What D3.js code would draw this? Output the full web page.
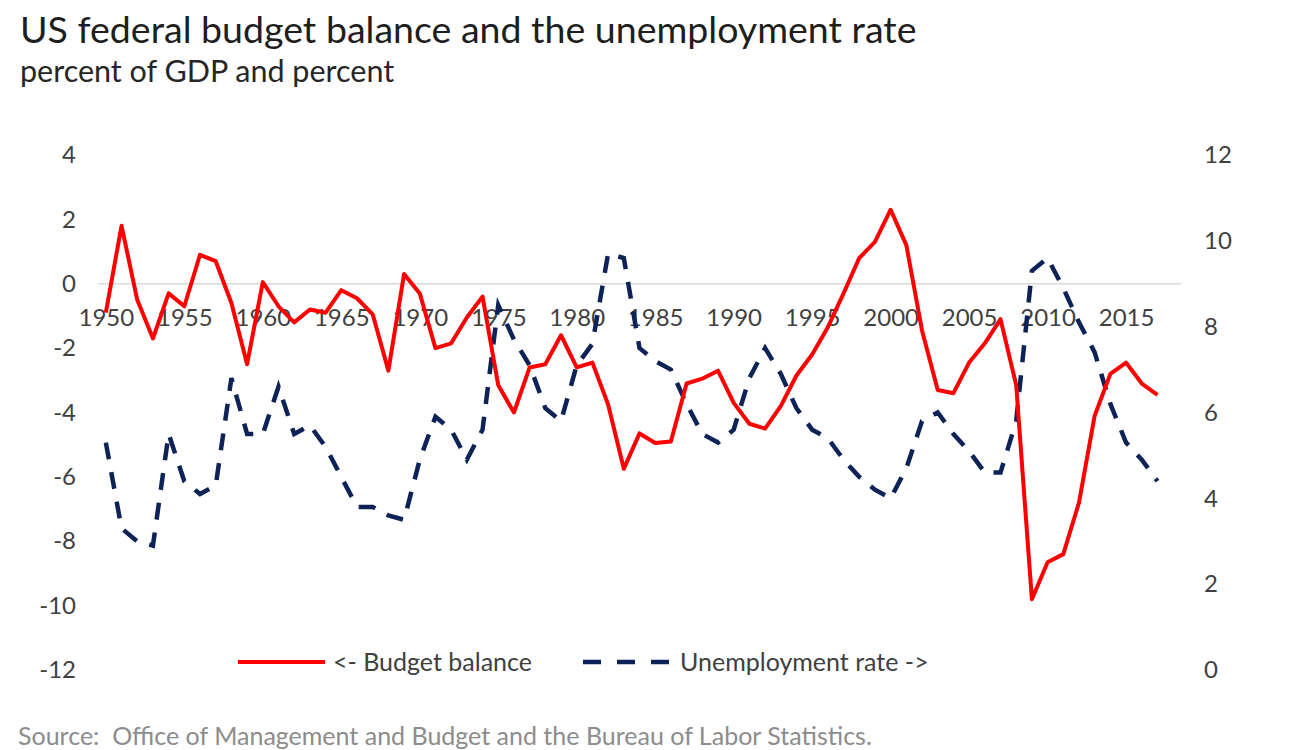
<!DOCTYPE html>
<html lang="en">
<head>
    <meta charset="UTF-8">
    <title>US federal budget balance and the unemployment rate</title>
    <script src="https://d3js.org/d3.v7.min.js"></script>
    <style>
        body { margin: 0; background: #fff; }
        text { font-family: Lato, "Open Sans", sans-serif; }
    </style>
</head>
<body>
    <script>
        // categories (2018 slot is left empty, as in the original Excel chart)
        const years = [1950, 1951, 1952, 1953, 1954, 1955, 1956, 1957, 1958, 1959,
            1960, 1961, 1962, 1963, 1964, 1965, 1966, 1967, 1968, 1969,
            1970, 1971, 1972, 1973, 1974, 1975, 1976, 1977, 1978, 1979,
            1980, 1981, 1982, 1983, 1984, 1985, 1986, 1987, 1988, 1989,
            1990, 1991, 1992, 1993, 1994, 1995, 1996, 1997, 1998, 1999,
            2000, 2001, 2002, 2003, 2004, 2005, 2006, 2007, 2008, 2009,
            2010, 2011, 2012, 2013, 2014, 2015, 2016, 2017, 2018];

        // budget balance, percent of GDP (left axis), 1950-2017
        const budgetBalance = [-0.9, 1.8, -0.5, -1.7, -0.3, -0.7, 0.9, 0.7, -0.6, -2.5,
            0.05, -0.7, -1.2, -0.8, -0.9, -0.2, -0.45, -0.95, -2.7, 0.3,
            -0.3, -2.0, -1.85, -1.05, -0.4, -3.15, -4.0, -2.6, -2.5, -1.6,
            -2.6, -2.45, -3.75, -5.75, -4.65, -4.95, -4.9, -3.1, -2.95, -2.7,
            -3.7, -4.35, -4.5, -3.8, -2.85, -2.2, -1.35, -0.3, 0.8, 1.3,
            2.3, 1.2, -1.45, -3.3, -3.4, -2.45, -1.85, -1.1, -3.15, -9.8,
            -8.65, -8.4, -6.8, -4.1, -2.8, -2.45, -3.1, -3.45];

        // unemployment rate, percent (right axis), 1950-2017
        const unemployment = [5.3, 3.3, 3.0, 2.9, 5.5, 4.4, 4.1, 4.3, 6.8, 5.5,
            5.5, 6.6, 5.5, 5.7, 5.2, 4.5, 3.8, 3.8, 3.6, 3.5,
            4.9, 5.9, 5.6, 4.9, 5.6, 8.5, 7.7, 7.1, 6.1, 5.8,
            7.1, 7.6, 9.7, 9.6, 7.5, 7.2, 7.0, 6.2, 5.5, 5.3,
            5.6, 6.8, 7.5, 6.9, 6.1, 5.6, 5.4, 4.9, 4.5, 4.2,
            4.0, 4.7, 5.8, 6.0, 5.5, 5.1, 4.6, 4.6, 5.8, 9.3,
            9.6, 8.9, 8.1, 7.4, 6.2, 5.3, 4.9, 4.4];

        const leftTicks = [4, 2, 0, -2, -4, -6, -8, -10, -12];
        const rightTicks = [0, 2, 4, 6, 8, 10, 12];
        const yearLabels = [1950, 1955, 1960, 1965, 1970, 1975, 1980, 1985, 1990, 1995, 2000, 2005, 2010, 2015];

        const width = 1316, height = 750;
        const plot = { left: 98, right: 1181, top: 155, bottom: 670 };

        const svg = d3.select("body").append("svg")
            .attr("width", width)
            .attr("height", height);

        const x = d3.scalePoint()
            .domain(years)
            .range([plot.left, plot.right])
            .padding(0.5);

        const yLeft = d3.scaleLinear().domain([-12, 4]).range([plot.bottom, plot.top]);
        const yRight = d3.scaleLinear().domain([0, 12]).range([plot.bottom, plot.top]);

        // plain hyphen for negatives, like the original
        const fmt = d => String(d);

        // title block
        svg.append("text")
            .attr("x", 20).attr("y", 43)
            .attr("font-size", 37.5)
            .attr("fill", "#1e1e1e")
            .text("US federal budget balance and the unemployment rate");

        svg.append("text")
            .attr("x", 20).attr("y", 82)
            .attr("font-size", 30.5)
            .attr("fill", "#262626")
            .text("percent of GDP and percent");

        // zero line
        svg.append("line")
            .attr("x1", plot.left).attr("x2", plot.right)
            .attr("y1", yLeft(0)).attr("y2", yLeft(0))
            .attr("stroke", "#d9d9d9")
            .attr("stroke-width", 1.5);

        // left axis
        const leftAxis = svg.append("g")
            .attr("transform", `translate(${plot.left - 22},0)`)
            .call(d3.axisLeft(yLeft).tickValues(leftTicks).tickFormat(fmt).tickSize(0).tickPadding(0));
        leftAxis.select(".domain").remove();
        leftAxis.selectAll("text")
            .attr("font-size", 24)
            .attr("font-family", "Lato, sans-serif")
            .attr("fill", "#404040");

        // right axis
        const rightAxis = svg.append("g")
            .attr("transform", `translate(${plot.right + 23},0)`)
            .call(d3.axisRight(yRight).tickValues(rightTicks).tickFormat(fmt).tickSize(0).tickPadding(0));
        rightAxis.select(".domain").remove();
        rightAxis.selectAll("text")
            .attr("font-size", 24)
            .attr("font-family", "Lato, sans-serif")
            .attr("fill", "#404040");

        // year labels sit just under the zero line
        const bottomAxis = svg.append("g")
            .attr("transform", `translate(0,${yLeft(0)})`)
            .call(d3.axisBottom(x).tickValues(yearLabels).tickSize(0).tickPadding(25));
        bottomAxis.select(".domain").remove();
        bottomAxis.selectAll("text")
            .attr("font-size", 24)
            .attr("font-family", "Lato, sans-serif")
            .attr("fill", "#404040");

        // series
        const budgetLine = d3.line()
            .x((d, i) => x(years[i]))
            .y(d => yLeft(d));

        const unempLine = d3.line()
            .x((d, i) => x(years[i]))
            .y(d => yRight(d));

        svg.append("path")
            .datum(unemployment)
            .attr("fill", "none")
            .attr("stroke", "#0d2257")
            .attr("stroke-width", 4.5)
            .attr("stroke-dasharray", "17,13")
            .attr("d", unempLine);

        svg.append("path")
            .datum(budgetBalance)
            .attr("fill", "none")
            .attr("stroke", "#ff0000")
            .attr("stroke-width", 4)
            .attr("stroke-linejoin", "round")
            .attr("d", budgetLine);

        // legend
        const legendY = 662;
        svg.append("line")
            .attr("x1", 238).attr("x2", 325)
            .attr("y1", legendY).attr("y2", legendY)
            .attr("stroke", "#ff0000")
            .attr("stroke-width", 4);
        svg.append("text")
            .attr("x", 333).attr("y", legendY + 9)
            .attr("font-size", 25)
            .attr("fill", "#404040")
            .text("<- Budget balance");

        svg.append("line")
            .attr("x1", 583).attr("x2", 670)
            .attr("y1", legendY).attr("y2", legendY)
            .attr("stroke", "#0d2257")
            .attr("stroke-width", 4.5)
            .attr("stroke-dasharray", "18,16");
        svg.append("text")
            .attr("x", 680).attr("y", legendY + 9)
            .attr("font-size", 25)
            .attr("fill", "#404040")
            .text("Unemployment rate ->");

        // source
        svg.append("text")
            .attr("x", 18).attr("y", 745)
            .attr("font-size", 25)
            .attr("fill", "#8c8c8c")
            .attr("xml:space", "preserve")
            .text("Source:  Office of Management and Budget and the Bureau of Labor Statistics.");
    </script>
</body>
</html>
